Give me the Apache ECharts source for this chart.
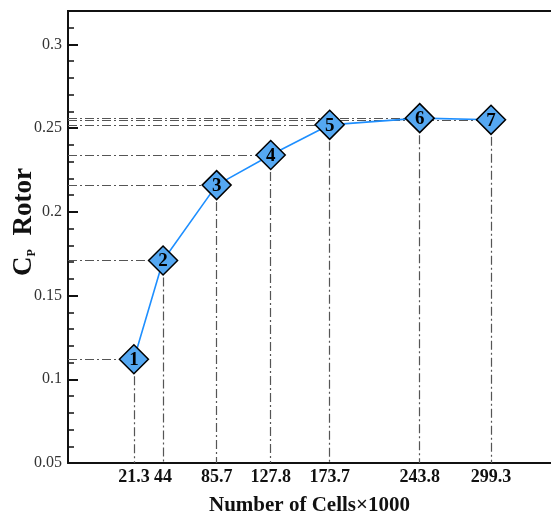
<!DOCTYPE html>
<html>
<head>
<meta charset="utf-8">
<script src="https://cdn.jsdelivr.net/npm/echarts@6/dist/echarts.min.js"></script>
<style>
  html, body { margin: 0; padding: 0; background: #fff; }
  #chart { width: 551px; height: 515px; }
</style>
</head>
<body>
<div id="chart"></div>
<script>
// Mesh study: rotor power coefficient against grid size
const cells = [21.3, 44, 85.7, 127.8, 173.7, 243.8, 299.3];   // number of cells ×1000
const cpRotor = [0.112, 0.171, 0.216, 0.234, 0.252, 0.256, 0.255];
const meshIds = ['1', '2', '3', '4', '5', '6', '7'];
const yTicks = [0.05, 0.1, 0.15, 0.2, 0.25, 0.3];

const X_MIN = -30, X_MAX = 346, Y_MIN = 0.05, Y_MAX = 0.32;
const serif = 'Liberation Serif';

const points = cells.map((c, i) => [c, cpRotor[i]]);

// dash-dot guides from each point to both axes
const guides = [];
points.forEach(p => {
  guides.push([{ coord: [X_MIN, p[1]] }, { coord: [p[0], p[1]] }]);
  guides.push([{ coord: [p[0], p[1]] }, { coord: [p[0], Y_MIN] }]);
});

const chart = echarts.init(document.getElementById('chart'), null, { renderer: 'canvas' });
chart.setOption({
  animation: false,
  backgroundColor: '#fff',
  grid: { left: 68, right: 0, top: 11, bottom: 52, containLabel: false, outerBoundsMode: 'none' },
  xAxis: {
    type: 'value',
    min: X_MIN, max: X_MAX,
    name: 'Number of Cells×1000',
    nameLocation: 'middle',
    nameGap: 32,
    nameTextStyle: { fontFamily: serif, fontWeight: 'bold', fontSize: 21, color: '#111' },
    axisLine: { show: true, onZero: false, lineStyle: { color: '#111', width: 2 } },
    axisTick: { show: false },
    splitLine: { show: false },
    axisLabel: {
      customValues: cells,
      formatter: v => String(v),
      margin: 5,
      fontFamily: serif, fontWeight: 'bold', fontSize: 18, color: '#111'
    }
  },
  yAxis: {
    type: 'value',
    min: Y_MIN, max: Y_MAX, interval: 0.05,
    name: '{c|C}{p|P}{r|  Rotor}',
    nameLocation: 'middle',
    nameMoveOverlap: false,
    nameGap: 30,
    nameRotate: 90,
    nameTextStyle: {
      padding: [0, 0, 0, 30],
      rich: {
        c: { fontFamily: serif, fontWeight: 'bold', fontSize: 27, color: '#111' },
        p: { fontFamily: serif, fontWeight: 'bold', fontSize: 12, color: '#111', verticalAlign: 'bottom', padding: [12, 0, 0, 0] },
        r: { fontFamily: serif, fontWeight: 'bold', fontSize: 27, color: '#111' }
      }
    },
    axisLine: { show: true, onZero: false, lineStyle: { color: '#111', width: 2 } },
    axisTick: {
      show: true, inside: true, length: 10,
      customValues: yTicks,
      lineStyle: { color: '#111', width: 2 }
    },
    minorTick: { show: true, splitNumber: 5, length: 6, lineStyle: { color: '#111', width: 1.5 } },
    splitLine: { show: false },
    axisLabel: {
      customValues: yTicks,
      formatter: v => String(+v.toFixed(2)),
      margin: 6,
      fontFamily: serif, fontSize: 16, color: '#333'
    }
  },
  graphic: [
    // top frame edge
    {
      type: 'line', z: 10,
      shape: { x1: 67, y1: 11, x2: 551, y2: 11 },
      style: { stroke: '#111', lineWidth: 2 }
    }
  ],
  series: [
    {
      type: 'line',
      data: points,
      symbol: 'diamond',
      symbolSize: [29, 29],
      z: 5,
      lineStyle: { color: '#1e8fff', width: 1.6 },
      itemStyle: { color: '#55a8f2', borderColor: '#000', borderWidth: 1.5 },
      label: {
        show: true,
        position: 'inside',
        offset: [0, 1],
        formatter: p => meshIds[p.dataIndex],
        fontFamily: serif, fontWeight: 'bold', fontSize: 19, color: '#000'
      },
      markLine: {
        silent: true,
        symbol: ['none', 'none'],
        label: { show: false },
        z: 1,
        lineStyle: { color: '#555', width: 1.2, type: [9, 3, 2, 3] },
        data: guides
      }
    }
  ]
});
</script>
</body>
</html>
